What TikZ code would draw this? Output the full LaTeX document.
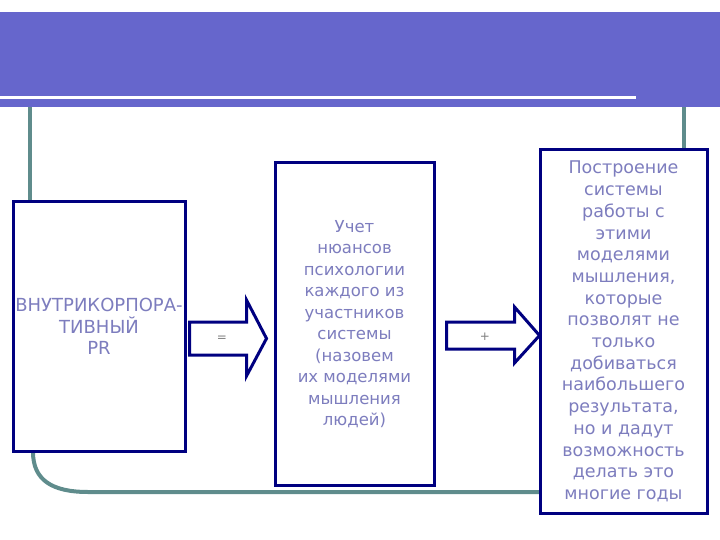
\documentclass[tikz,border=0pt]{standalone}
\usepackage{fontspec}
\setmainfont{DejaVu Sans}
\usepackage{tikz}
\definecolor{bandblue}{RGB}{102,102,204}
\definecolor{boxnavy}{RGB}{0,0,128}
\definecolor{linkteal}{RGB}{95,140,140}
\definecolor{softtext}{RGB}{125,125,190}

\begin{document}
\begin{tikzpicture}[x=1pt, y=-1pt,
    textbox/.style={draw=boxnavy, line width=3pt, fill=white, inner sep=0pt,
                    text=softtext, align=center},
    blockarrow/.style={draw=boxnavy, line width=3pt, fill=white, line join=miter},
    link/.style={draw=linkteal, line width=4pt},
    opsign/.style={text=gray, font=\fontsize{12}{12}\selectfont}]
  \useasboundingbox (0,0) rectangle (720,540);
  % title band
  \node[fill=bandblue, minimum width=720pt, minimum height=95pt, inner sep=0pt,
        anchor=north west] (banner) at (0,12) {};
  \draw[white, line width=3pt] (0,97.5) -- (636,97.5);
  % teal frame
  \draw[link] (banner.south -| 30,0) -- (30,210);
  \draw[link] (banner.south -| 684,0) -- (684,160);
  \draw[link] (33,440) -- (33,452) .. controls (33,480) and (52,492) .. (88,492)
        -- (550,492);
  % boxes
  \node[textbox, minimum width=172pt, minimum height=249pt,
        font=\fontsize{18}{21.5}\selectfont] (corp) at (99,326.5)
        {ВНУТРИКОРПОРА-\\ТИВНЫЙ\\PR};
  \node[textbox, minimum width=159pt, minimum height=322pt,
        font=\fontsize{16.5}{21.5}\selectfont] (nuance) at (354.5,324)
        {Учет\\ нюансов\\психологии\\каждого из\\участников\\системы\\(назовем\\их моделями\\мышления\\людей)};
  \node[textbox, minimum width=167pt, minimum height=363pt,
        font=\fontsize{17.5}{21.7}\selectfont] (build) at (623.5,331.5)
        {Построение\\системы\\работы с\\этими\\моделями\\мышления,\\которые\\позволят не\\только\\добиваться\\наибольшего\\результата,\\но и дадут\\возможность\\делать это\\многие годы};
  % block arrows
  \coordinate (eqtail) at ([xshift=3pt]corp.east |- 0,338.5);
  \coordinate (plustail) at ([xshift=11pt]nuance.east |- 0,335.5);
  \draw[blockarrow] (eqtail) ++(0,-16.5) -- ++(57,0) -- ++(0,-22) -- ++(20,38.5)
        -- ++(-20,37.5) -- ++(0,-21) -- ++(-57,0) -- cycle;
  \draw[blockarrow] (plustail) ++(0,-13.5) -- ++(68,0) -- ++(0,-15) -- ++(25,28.5)
        -- ++(-25,27.5) -- ++(0,-14) -- ++(-68,0) -- cycle;
  \node[opsign] (eqsign) at (222,339) {=};
  \node[opsign] (plussign) at (485,337) {+};
\end{tikzpicture}
\end{document}
